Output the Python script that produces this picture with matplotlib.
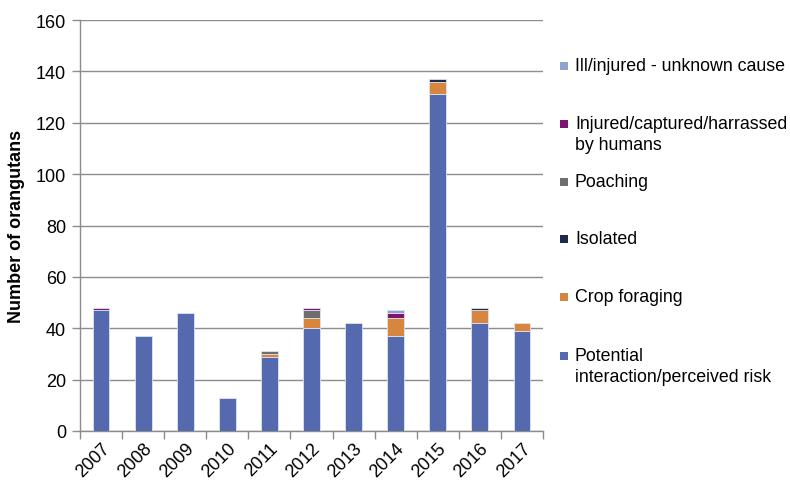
import matplotlib
matplotlib.use("Agg")
import matplotlib.pyplot as plt
from matplotlib.patches import Rectangle
import numpy as np

years = ["2007", "2008", "2009", "2010", "2011", "2012", "2013", "2014", "2015", "2016", "2017"]
potential = [47, 37, 46, 13, 29, 40, 42, 37, 131, 42, 39]
crop = [0, 0, 0, 0, 1, 4, 0, 7, 5, 5, 3]
isolated = [0, 0, 0, 0, 0, 0, 0, 0, 1, 1, 0]
poaching = [0, 0, 0, 0, 1, 3, 0, 0, 0, 0, 0]
injured = [1, 0, 0, 0, 0, 1, 0, 2, 0, 0, 0]
ill = [0, 0, 0, 0, 0, 0, 0, 1, 0, 0, 0]

series = [
    ("Potential\ninteraction/perceived risk", potential, "#5469AE"),
    ("Crop foraging", crop, "#D8853F"),
    ("Isolated", isolated, "#1E2950"),
    ("Poaching", poaching, "#6E6E6E"),
    ("Injured/captured/harrassed\nby humans", injured, "#7F1370"),
    ("Ill/injured - unknown cause", ill, "#8FA3D0"),
]

plt.rcParams['font.family'] = ['Liberation Sans', 'DejaVu Sans']

W, H = 790, 481
fig = plt.figure(figsize=(W / 100, H / 100), dpi=100)
ax = fig.add_axes([80/W, 49/H, 463/W, 411/H])

x = np.arange(len(years))
bottom = np.zeros(len(years))
for label, vals, color in series:
    v = np.array(vals, dtype=float)
    edges = ["#DDE3F0" if val > 0 else "none" for val in v]
    ax.bar(x, v, bottom=bottom, width=0.4, color=color, edgecolor=edges,
           linewidth=0.6, label=label, zorder=3)
    bottom += v

ax.set_xlim(-0.5, len(years) - 0.5)
ax.set_ylim(0, 160)
ax.set_yticks(np.arange(0, 161, 20))
ax.yaxis.grid(True, color="#8C8C8C", linewidth=1.0, zorder=0)
ax.set_axisbelow(True)
ax.set_xticks(x)
ax.set_xticklabels(years, rotation=45, ha="right", rotation_mode="anchor", fontsize=13)
ax.set_xticks(np.arange(-0.5, len(years)), minor=True)
ax.tick_params(axis="x", which="major", length=0, pad=6)
ax.tick_params(axis="x", which="minor", length=6, color="#8C8C8C", width=1)
ax.tick_params(axis="y", length=6, color="#8C8C8C", width=1, labelsize=13, pad=4)
for s in ["top", "right"]:
    ax.spines[s].set_visible(False)
for s in ["left", "bottom"]:
    ax.spines[s].set_color("#8C8C8C")
    ax.spines[s].set_linewidth(1)

ax.set_ylabel("Number of orangutans", fontsize=13, fontweight="bold", labelpad=8)

# Manual legend (evenly spaced entries, handle aligned with first text line)
leg_y = [357, 298, 240, 183, 125, 67]  # pixel y from top, for series order
for (label, vals, color), py in zip(series, leg_y):
    fig.patches.append(Rectangle((560 / W, 1 - (py + 4) / H), 8 / W, 8 / H,
                                 transform=fig.transFigure, facecolor=color,
                                 edgecolor="none"))
    fig.text(575 / W, 1 - (py - 9) / H, label, fontsize=12.8, va="top", ha="left",
             linespacing=1.3)

fig.savefig("out.png", dpi=100)
